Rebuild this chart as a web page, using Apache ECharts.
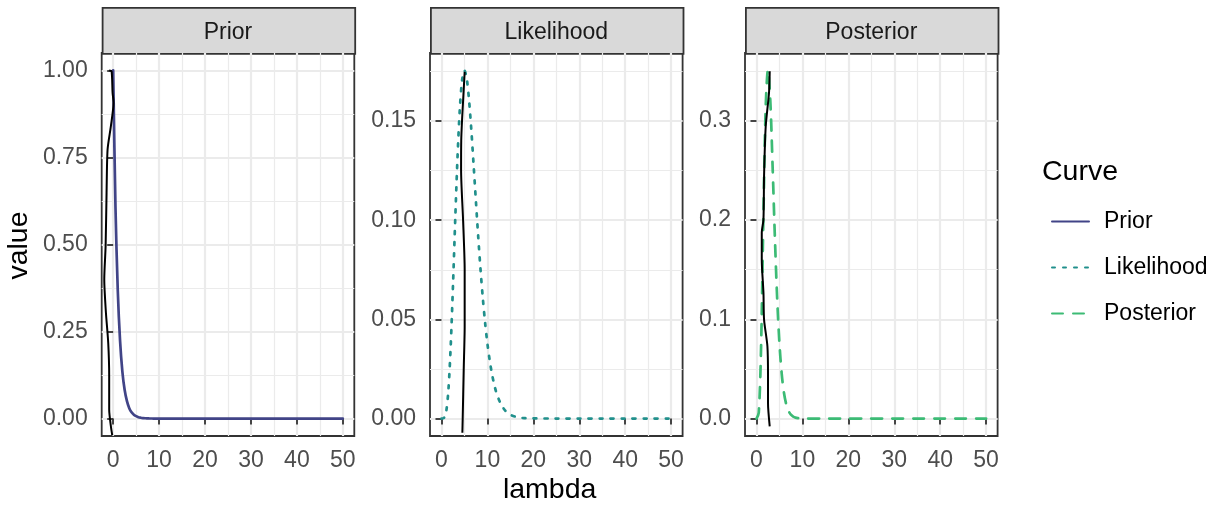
<!DOCTYPE html>
<html>
<head>
<meta charset="utf-8">
<title>Prior / Likelihood / Posterior</title>
<script src="https://cdn.jsdelivr.net/npm/echarts@6/dist/echarts.min.js"></script>
<style>
  html, body { margin: 0; padding: 0; background: #fff; }
  #chart { width: 1215px; height: 510px; }
</style>
</head>
<body>
<div id="chart"></div>
<script>
// ---- data ----
const lambda = [0, 0.5, 1, 1.5, 2, 2.5, 3, 3.5, 4, 4.5, 5, 5.5, 6, 6.5, 7, 7.5, 8, 8.5, 9, 9.5,
  10, 10.5, 11, 11.5, 12, 13, 14, 15, 16, 17, 18, 20, 25, 30, 35, 40, 45, 50];

const priorValues = [1, 0.607, 0.368, 0.223, 0.135, 0.082, 0.050, 0.030, 0.018, 0.011,
  0.007, 0.004, 0.0025, 0.0015, 0.0009, 0.0006, 0.0003, 0.0002, 0.0001, 0.0001,
  0, 0, 0, 0, 0, 0, 0, 0, 0, 0, 0, 0, 0, 0, 0, 0, 0, 0];

const likelihoodValues = [0, 0.0002, 0.0031, 0.0141, 0.0361, 0.0668, 0.1008, 0.1322, 0.1563, 0.1708,
  0.1755, 0.1714, 0.1606, 0.1454, 0.1277, 0.1094, 0.0916, 0.0752, 0.0607, 0.0483,
  0.0378, 0.0293, 0.0224, 0.0170, 0.0127, 0.0070, 0.0037, 0.0019, 0.0010, 0.0005,
  0.0002, 0.0001, 0, 0, 0, 0, 0, 0];

const posteriorValues = [0, 0.0061, 0.0722, 0.2016, 0.3126, 0.3509, 0.3212, 0.2554, 0.1832, 0.1214,
  0.0757, 0.0448, 0.0255, 0.0140, 0.0075, 0.0039, 0.0020, 0.0010, 0.0005, 0.0002,
  0.0001, 0, 0, 0, 0, 0, 0, 0, 0, 0, 0, 0, 0, 0, 0, 0, 0, 0];

// black wiggly paths (x, y pairs in data units)
const priorPathX = [-0.87, -0.35, -0.13, 0.08, -0.5, -1.22, -1.44, -1.65, -1.94, -1.58, -1.08, -0.87, -0.87, -0.5, -0.2];
const priorPathY = [1.0, 0.998, 0.936, 0.907, 0.84, 0.773, 0.649, 0.495, 0.40, 0.304, 0.218, 0.122, 0.026, -0.022, -0.048];
const likelihoodPathX = [5.05, 4.75, 4.48, 4.3, 4.27, 4.7, 5.05, 5.05, 4.84, 4.62, 4.55];
const likelihoodPathY = [0.1748, 0.162, 0.1505, 0.14, 0.1253, 0.1002, 0.075, 0.0465, 0.0247, 0, -0.0072];
const posteriorPathX = [2.88, 2.73, 2.01, 1.65, 1.52, 1.15, 1.15, 1.52, 1.65, 2.38, 2.51, 2.51, 2.88];
const posteriorPathY = [0.3497, 0.328, 0.294, 0.244, 0.2003, 0.187, 0.160, 0.1266, 0.0997, 0.0728, 0.0426, 0.0158, -0.0078];

const panelNames = ['Prior', 'Likelihood', 'Posterior'];
const xMajorTicks = [0, 10, 20, 30, 40, 50];
const xMinorTicks = [5, 15, 25, 35, 45];
const xLimits = [-2.5, 52.5];
const yMajorTicks = [[0, 0.25, 0.5, 0.75, 1], [0, 0.05, 0.1, 0.15], [0, 0.1, 0.2, 0.3]];
const yMinorTicks = [[0.125, 0.375, 0.625, 0.875], [0.025, 0.075, 0.125, 0.175], [0.05, 0.15, 0.25, 0.35]];
const yLimits = [[-0.05, 1.05], [-0.0088, 0.1843], [-0.0175, 0.368]];
const yDecimals = [2, 2, 1];

// ---- looks ----
const FONT = '"Liberation Sans", Arial, Helvetica, sans-serif';
const curveColors = ['#414487', '#21908C', '#3CBB75'];
const curveDash = ['solid', [3, 8], [11, 10]];
const panelLeft = [101.7, 430, 745];
const panelWidth = 252.6;
const panelTop = 53;
const panelHeight = 383;
const stripTop = 7;

const zip = (xs, ys) => xs.map((x, i) => [x, ys[i]]);
const curves = [priorValues, likelihoodValues, posteriorValues];
const paths = [zip(priorPathX, priorPathY), zip(likelihoodPathX, likelihoodPathY), zip(posteriorPathX, posteriorPathY)];

const grids = [], xAxes = [], yAxes = [], series = [], graphics = [];

panelNames.forEach((name, i) => {
    grids.push({
        left: panelLeft[i], top: panelTop, width: panelWidth, height: panelHeight,
        show: true, backgroundColor: '#fff', borderColor: '#333333', borderWidth: 1.8,
        containLabel: false, outerBoundsMode: 'none'
    });

    // major x axis (labels, ticks, major grid)
    xAxes.push({
        type: 'value', gridIndex: i, min: xLimits[0], max: xLimits[1],
        axisLine: { show: false },
        axisTick: { show: true, length: 6, customValues: xMajorTicks, lineStyle: { color: '#333333', width: 1.8 } },
        axisLabel: { customValues: xMajorTicks, margin: 13, color: '#4D4D4D', fontSize: 23, fontFamily: FONT },
        splitLine: { show: true, lineStyle: { color: '#EBEBEB', width: 2.2 } }
    });
    // minor x grid
    xAxes.push({
        type: 'value', gridIndex: i, min: xLimits[0], max: xLimits[1],
        axisLine: { show: false },
        axisTick: { show: false, customValues: xMinorTicks },
        axisLabel: { show: false, customValues: xMinorTicks },
        splitLine: { show: true, lineStyle: { color: '#EBEBEB', width: 1.2 } }
    });

    yAxes.push({
        type: 'value', gridIndex: i, min: yLimits[i][0], max: yLimits[i][1],
        axisLine: { show: false },
        axisTick: { show: true, length: 6, customValues: yMajorTicks[i], lineStyle: { color: '#333333', width: 1.8 } },
        axisLabel: {
            customValues: yMajorTicks[i], margin: 14, color: '#4D4D4D', fontSize: 23, fontFamily: FONT,
            formatter: v => v.toFixed(yDecimals[i])
        },
        splitLine: { show: true, lineStyle: { color: '#EBEBEB', width: 2.2 } }
    });
    yAxes.push({
        type: 'value', gridIndex: i, min: yLimits[i][0], max: yLimits[i][1],
        axisLine: { show: false },
        axisTick: { show: false, customValues: yMinorTicks[i] },
        axisLabel: { show: false, customValues: yMinorTicks[i] },
        splitLine: { show: true, lineStyle: { color: '#EBEBEB', width: 1.2 } }
    });

    series.push({
        name: name, type: 'line', xAxisIndex: 2 * i, yAxisIndex: 2 * i,
        data: zip(lambda, curves[i]), showSymbol: false, symbol: 'none', smooth: 0.3,
        color: curveColors[i],
        lineStyle: { color: curveColors[i], width: 2.7, type: curveDash[i], cap: 'round' },
        z: 3, silent: true
    });
    series.push({
        name: name + ' samples', type: 'line', xAxisIndex: 2 * i, yAxisIndex: 2 * i,
        data: paths[i], showSymbol: false, symbol: 'none', smooth: 0.25,
        lineStyle: { color: '#000', width: 2 },
        z: 4, silent: true
    });

    // facet strip
    graphics.push({
        type: 'rect', left: panelLeft[i], top: stripTop,
        shape: { width: panelWidth, height: panelTop - stripTop },
        style: { fill: '#D9D9D9', stroke: '#333333', lineWidth: 1.8 }
    });
    graphics.push({
        type: 'text', x: panelLeft[i] + panelWidth / 2, y: (stripTop + panelTop) / 2 + 2.5,
        style: { text: name, fill: '#1A1A1A', font: '23px ' + FONT, textAlign: 'center', textVerticalAlign: 'middle' }
    });
});

// axis titles + legend title
graphics.push({
    type: 'text', x: 19, y: panelTop + panelHeight / 2 + 1, rotation: Math.PI / 2,
    style: { text: 'value', fill: '#000', font: '28.5px ' + FONT, textAlign: 'center', textVerticalAlign: 'middle' }
});
graphics.push({
    type: 'text', x: (panelLeft[0] + panelLeft[2] + panelWidth) / 2, y: 490,
    style: { text: 'lambda', fill: '#000', font: '28.5px ' + FONT, textAlign: 'center', textVerticalAlign: 'middle' }
});
graphics.push({
    type: 'text', x: 1042, y: 172,
    style: { text: 'Curve', fill: '#000', font: '28.5px ' + FONT, textAlign: 'left', textVerticalAlign: 'middle' }
});

const chart = echarts.init(document.getElementById('chart'), null, { renderer: 'canvas' });
chart.setOption({
    animation: false,
    backgroundColor: '#fff',
    grid: grids,
    xAxis: xAxes,
    yAxis: yAxes,
    series: series,
    graphic: graphics,
    legend: {
        data: panelNames, orient: 'vertical', left: 1046, top: 205,
        itemWidth: 37, itemHeight: 23, itemGap: 23, selectedMode: false,
        itemStyle: { opacity: 0 },
        textStyle: { color: '#000', fontSize: 23, fontFamily: FONT, padding: [0, 0, 0, 10] }
    }
});
</script>
</body>
</html>
